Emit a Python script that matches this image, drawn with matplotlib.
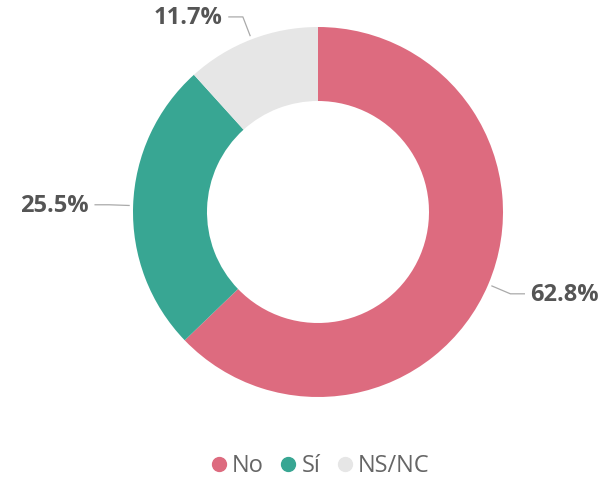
import numpy as np
import matplotlib
matplotlib.use("Agg")
import matplotlib.pyplot as plt
from matplotlib.lines import Line2D

labels = ["No", "Sí", "NS/NC"]
values = [62.8, 25.5, 11.7]
colors = ["#DD6B7F", "#38A693", "#E6E6E6"]

plt.rcParams["font.family"] = ["Open Sans", "DejaVu Sans"]

fig = plt.figure(figsize=(6.15, 4.86), dpi=100)
ax = fig.add_axes([0, 0, 1, 1])

cx, cy, R = 318, 274, 185
wedges, _ = ax.pie(values, colors=colors, startangle=90, counterclock=False,
                   center=(cx, cy), radius=R, frame=True,
                   wedgeprops=dict(width=R * 0.4, linewidth=0))
ax.set_xlim(0, 615)
ax.set_ylim(0, 486)
ax.set_aspect("equal")
ax.axis("off")

for w, v in zip(wedges, values):
    ang = np.deg2rad((w.theta1 + w.theta2) / 2)
    c, s = np.cos(ang), np.sin(ang)
    x0, y0 = cx + (R + 4) * c, cy + (R + 4) * s
    x1, y1 = cx + R * 1.13 * c, cy + R * 1.13 * s
    side = 1 if c >= 0 else -1
    x2 = x1 + side * 14
    ax.plot([x0, x1, x2], [y0, y1, y1], color="#aaaaaa", lw=0.9)
    ax.text(x2 + side * 6, y1 - 1, f"{v}%", ha="left" if side > 0 else "right",
            va="center", fontsize=17, fontweight="bold", color="#555555")

handles = [Line2D([], [], marker="o", ls="", markersize=10, markerfacecolor=c,
                  markeredgecolor=c) for c in colors]
leg = fig.legend(handles, labels, loc="center", bbox_to_anchor=(320 / 615, 1 - 466 / 486),
                 ncol=3, frameon=False, fontsize=17, handletextpad=0.2, columnspacing=0.7,
                 handlelength=0.7)
for t in leg.get_texts():
    t.set_color("#666666")

plt.savefig("out.png", dpi=100)
